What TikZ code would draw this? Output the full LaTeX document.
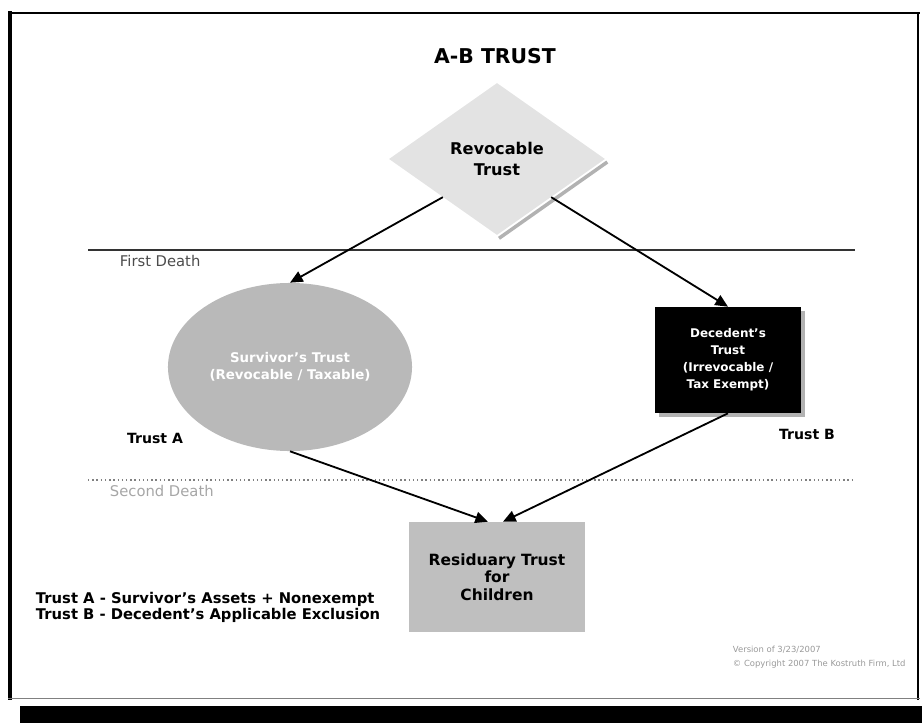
\documentclass[tikz,border=0pt]{standalone}
\usepackage{fontspec}
\setmainfont{DejaVu Sans}
\usetikzlibrary{shapes.geometric,arrows.meta,shadows}

\begin{document}
\begin{tikzpicture}[x=0.025cm,y=-0.025cm,
  conn/.style={line width=1.3pt,-{Triangle[length=9pt,width=8pt]}},
  lbl/.style={font=\fontsize{10}{12}\selectfont\bfseries},
  boxtxt/.style={align=center,font=\fontsize{8.5}{12}\selectfont\bfseries}]
\useasboundingbox (0,0) rectangle (922,723);

\draw[line width=1.8pt] (8,13) -- (920,13);
\draw[line width=2.8pt] (10,11) -- (10,700);
\draw[line width=2pt] (918,12) -- (918,700);
\draw[line width=0.6pt,gray] (8,698) -- (920,698);
\fill (20,706) rectangle (922,723);

\node[font=\fontsize{14.5}{16}\selectfont\bfseries] (title) at (495,56) {A-B TRUST};

\draw[line width=1pt,black!80] (88,250) -- (855,250);
\node[anchor=west,font=\fontsize{10.5}{12}\selectfont,text=black!70] (first) at (115,261) {First Death};
\draw[line width=1pt,gray,dotted] (88,480) -- (855,480);
\node[anchor=west,font=\fontsize{10.5}{12}\selectfont,text=gray!70] (second) at (105,491) {Second Death};

\node[diamond,fill=gray!22,minimum width=5.4cm,minimum height=3.8cm,inner sep=0pt,
  boxtxt,font=\fontsize{11.5}{15}\selectfont\bfseries] (revoc) at (497,159) {Revocable\\Trust};
\draw[gray!60,line width=2.5pt] ([shift={(2,3)}]revoc.south) -- ([shift={(2,3)}]revoc.east);

\node[ellipse,fill=gray!55,minimum width=6.1cm,minimum height=4.2cm,text=white,
  boxtxt,font=\fontsize{9.5}{12}\selectfont\bfseries] (surv) at (290,367) {Survivor's Trust\\(Revocable / Taxable)};

\node[rectangle,fill=black,text=white,minimum width=3.65cm,minimum height=2.65cm,boxtxt,
  drop shadow={shadow xshift=3pt,shadow yshift=-3pt,fill=gray!60,opacity=1}] (dec) at (728,360)
  {Decedent's\\Trust\\(Irrevocable /\\Tax Exempt)};

\node[rectangle,fill=gray!50,minimum width=4.4cm,minimum height=2.75cm,
  boxtxt,font=\fontsize{11}{12.5}\selectfont\bfseries] (resid) at (497,577) {Residuary Trust\\for\\Children};

\node[lbl] (trusta) at (155,438) {Trust A};
\node[lbl] (trustb) at (807,434) {Trust B};

\draw[conn] (revoc.south west) -- (surv.north);
\draw[conn] (revoc.south east) -- (dec.north);
\draw[conn] (surv.south) -- ([shift={(-9,0)}]resid.north);
\draw[conn] (dec.south) -- ([shift={(6,0)}]resid.north);

\node[anchor=north west,align=left,lbl,font=\fontsize{10.5}{11.5}\selectfont\bfseries] (legend) at (31,587)
  {Trust A - Survivor's Assets + Nonexempt\\Trust B - Decedent's Applicable Exclusion};

\node[anchor=north west,align=left,font=\fontsize{6}{10}\selectfont,text=gray!80] (copy) at (728,641)
  {Version of 3/23/2007\\© Copyright 2007 The Kostruth Firm, Ltd};
\end{tikzpicture}
\end{document}
